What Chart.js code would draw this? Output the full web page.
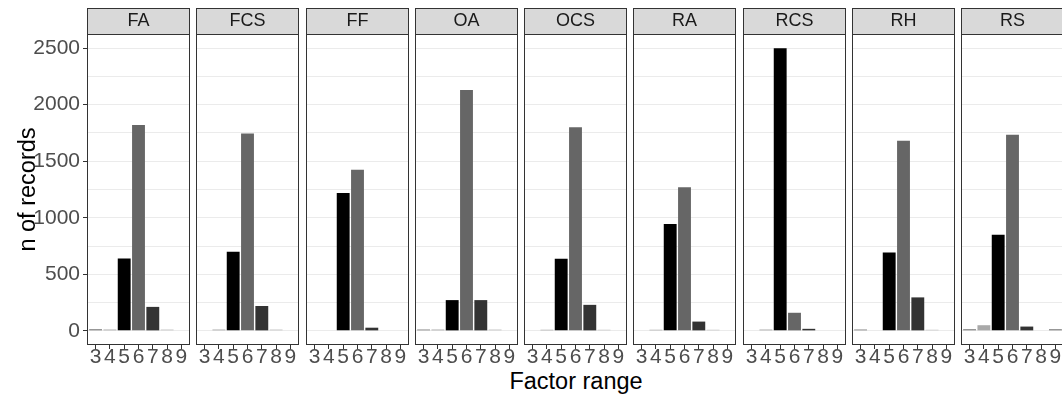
<!DOCTYPE html>
<html>
<head>
<meta charset="utf-8">
<script src="https://cdn.jsdelivr.net/npm/chart.js@4.4.1/dist/chart.umd.min.js"></script>
<style>
  html, body { margin: 0; padding: 0; background: #ffffff; overflow: hidden; }
  #wrap { position: relative; width: 1062px; height: 398px; overflow: hidden; background: #ffffff; }
  #wrap canvas { position: absolute; top: 0; }
  #xtitle {
    position: absolute; left: 87px; width: 978px; top: 370px;
    text-align: center; font: 23.5px "Liberation Sans", Arial, sans-serif;
    line-height: 23px; color: #000000; white-space: nowrap;
  }
</style>
</head>
<body>
<div id="wrap">
  <div id="xtitle">Factor range</div>
</div>
<script>
// Facet names and the factor levels on each panel's x axis
const panelNames = ['FA', 'FCS', 'FF', 'OA', 'OCS', 'RA', 'RCS', 'RH', 'RS'];
const factorLevels = [3, 4, 5, 6, 7, 8, 9];

// Record counts per factor level (3..9) for each facet
const countsFA  = [15, 12, 640, 1820, 212, 12, 0];
const countsFCS = [0, 12, 700, 1745, 220, 12, 0];
const countsFF  = [0, 0, 1220, 1425, 28, 0, 0];
const countsOA  = [12, 12, 272, 2130, 272, 12, 0];
const countsOCS = [0, 10, 638, 1800, 230, 10, 0];
const countsRA  = [0, 10, 945, 1270, 82, 10, 0];
const countsRCS = [0, 12, 2500, 160, 18, 0, 0];
const countsRH  = [12, 0, 692, 1680, 296, 10, 0];
const countsRS  = [15, 50, 850, 1735, 38, 0, 15];
const panelCounts = [countsFA, countsFCS, countsFF, countsOA, countsOCS, countsRA, countsRCS, countsRH, countsRS];

// y axis: labelled ticks and the minor grid values between them
const yTickLabels = [0, 500, 1000, 1500, 2000, 2500];
const yMinorGrid = [250, 750, 1250, 1750, 2250];

// Grey fill per factor level
const levelColors = ['#828282', '#a9a9a9', '#000000', '#666666', '#333333', '#c4c4c4', '#828282'];

const FONT = '"Liberation Sans", Arial, sans-serif';
const H = 398;
const PANEL_X0 = 87, PANEL_STEP = 109.25, PANEL_W = 103, Y_AXIS_W = 87;

Chart.defaults.font.family = FONT;

// Strip header behind the facet title and the panel frame drawn over the bars
const facetFrame = {
  id: 'facetFrame',
  beforeDraw(chart) {
    const { ctx, chartArea: a } = chart;
    const t = chart.titleBlock;
    const L = Math.round(a.left) + 0.5, R = Math.round(a.right) - 0.5;
    const top = Math.round(t.top) + 0.5, bot = Math.round(a.top) + 0.5;
    ctx.save();
    ctx.fillStyle = '#d9d9d9';
    ctx.fillRect(L, top, R - L, bot - top);
    ctx.strokeStyle = '#333333';
    ctx.lineWidth = 1;
    ctx.strokeRect(L, top, R - L, bot - top);
    ctx.restore();
  },
  afterDraw(chart) {
    const { ctx, chartArea: a } = chart;
    const L = Math.round(a.left) + 0.5, R = Math.round(a.right) - 0.5;
    const T = Math.round(a.top) + 0.5, B = Math.round(a.bottom) - 0.5;
    ctx.save();
    ctx.strokeStyle = '#333333';
    ctx.lineWidth = 1;
    ctx.strokeRect(L, T, R - L, B - T);
    ctx.restore();
  }
};

const gridValues = yTickLabels.concat(yMinorGrid).sort((a, b) => a - b);
const wrap = document.getElementById('wrap');

panelNames.forEach((name, i) => {
  const first = i === 0;
  const panelLeft = Math.round(PANEL_X0 + i * PANEL_STEP);
  const canvas = document.createElement('canvas');
  const padL = first ? 0 : 1;
  const width = (first ? Y_AXIS_W : 0) + PANEL_W + padL + 1;
  const left = first ? 0 : panelLeft - 1;
  canvas.width = width;
  canvas.height = H;
  canvas.style.left = left + 'px';
  canvas.style.width = width + 'px';
  canvas.style.height = H + 'px';
  wrap.appendChild(canvas);

  const values = panelCounts[i];
  new Chart(canvas, {
    type: 'bar',
    data: {
      datasets: [{
        data: values.map((v, k) => ({ x: factorLevels[k], y: v })),
        backgroundColor: factorLevels.map((_, k) => levelColors[k]),
        borderWidth: 0,
        barPercentage: 0.9,
        categoryPercentage: 1.0
      }]
    },
    options: {
      responsive: false,
      animation: false,
      devicePixelRatio: 1,
      layout: { padding: { top: 8, left: padL, right: 1, bottom: 0 } },
      plugins: {
        legend: { display: false },
        tooltip: { enabled: false },
        title: {
          display: true,
          text: name,
          fullSize: false,
          color: '#1a1a1a',
          font: { family: FONT, size: 18, weight: 'normal', lineHeight: 1.2 },
          padding: { top: 2.2, bottom: 2.2 }
        }
      },
      scales: {
        x: {
          type: 'linear',
          min: 2.4,
          max: 9.6,
          offset: false,
          afterBuildTicks: s => { s.ticks = factorLevels.map(v => ({ value: v })); },
          afterFit: s => { s.height = 53; },
          ticks: {
            autoSkip: false,
            maxRotation: 0,
            padding: 0,
            color: '#4d4d4d',
            font: { family: FONT, size: 21, lineHeight: 0.8 },
            callback: v => String(v)
          },
          grid: {
            offset: false,
            drawOnChartArea: false,
            tickLength: 4,
            tickColor: '#333333',
            tickWidth: 1
          },
          border: { display: false }
        },
        y: {
          type: 'linear',
          min: -125,
          max: 2625,
          afterBuildTicks: s => { s.ticks = gridValues.map(v => ({ value: v })); },
          afterFit: s => { s.width = first ? Y_AXIS_W : 0; },
          ticks: {
            display: first,
            padding: 3,
            color: '#4d4d4d',
            font: { family: FONT, size: 21 },
            callback: v => (yTickLabels.includes(v) ? String(v) : '')
          },
          grid: {
            color: '#ebebeb',
            lineWidth: 1,
            drawTicks: first,
            tickLength: 4,
            tickWidth: 1,
            tickColor: c => (c.tick && yTickLabels.includes(c.tick.value)) ? '#333333' : 'rgba(0,0,0,0)'
          },
          border: { display: false },
          title: {
            display: first,
            text: 'n of records',
            color: '#000000',
            font: { family: FONT, size: 23.5 },
            padding: { top: 14, bottom: 0 }
          }
        }
      }
    },
    plugins: [facetFrame]
  });
});
</script>
</body>
</html>
